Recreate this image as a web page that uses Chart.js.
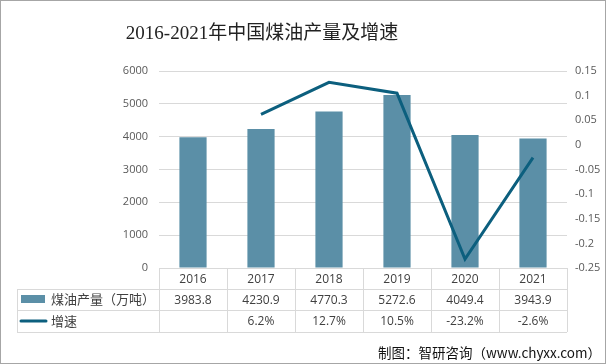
<!DOCTYPE html>
<html>
<head>
<meta charset="utf-8">
<script src="https://cdn.jsdelivr.net/npm/chart.js@4"></script>
<style>
  html, body { margin: 0; padding: 0; background: #fff; }
  canvas { display: block; }
</style>
</head>
<body>
<canvas id="coal" width="606" height="364"></canvas>
<script>
const years = ['2016', '2017', '2018', '2019', '2020', '2021'];
const output = [3983.8, 4230.9, 4770.3, 5272.6, 4049.4, 3943.9];
const growth = [null, 0.062, 0.127, 0.105, -0.232, -0.026];
const seriesNames = ['煤油产量（万吨）', '增速'];
const titleText = '2016-2021年中国煤油产量及增速';
const sourceText = '制图：智研咨询（www.chyxx.com）';

const barColor = '#5b8fa7';
const lineColor = '#0c5f7e';
const gridColor = '#d9d9d9';
const textColor = '#404040';

// table under the plot + title, source and frame
const tablePlugin = {
  id: 'tablePlugin',
  beforeDraw(chart) {
    const c = chart.ctx;
    c.save();
    c.fillStyle = '#fff';
    c.fillRect(0, 0, chart.width, chart.height);
    c.restore();
  },
  afterDraw(chart) {
    const c = chart.ctx;
    const x = chart.scales.x;
    const area = chart.chartArea;
    const colW = (area.right - area.left) / years.length;
    const rows = [area.bottom, area.bottom + 21, area.bottom + 42, area.bottom + 64];
    const legendLeft = 17;
    c.save();

    // grid of the table
    c.strokeStyle = gridColor;
    c.lineWidth = 1;
    c.beginPath();
    for (let r = 1; r < rows.length; r++) {
      c.moveTo(legendLeft, rows[r] + 0.5);
      c.lineTo(area.right, rows[r] + 0.5);
    }
    for (let i = 0; i <= years.length; i++) {
      const px = Math.round(area.left + colW * i) + 0.5;
      c.moveTo(px, rows[0]);
      c.lineTo(px, rows[3]);
    }
    c.moveTo(legendLeft + 0.5, rows[1]);
    c.lineTo(legendLeft + 0.5, rows[3]);
    c.stroke();

    // cells
    c.fillStyle = textColor;
    c.font = '12px "Open Sans", sans-serif';
    c.textAlign = 'center';
    c.textBaseline = 'middle';
    years.forEach((y, i) => {
      const cx = x.getPixelForValue(i);
      c.fillText(y, cx, (rows[0] + rows[1]) / 2 + 1);
      c.fillText(output[i].toFixed(1), cx, (rows[1] + rows[2]) / 2 + 1);
      if (growth[i] !== null) {
        c.fillText((growth[i] * 100).toFixed(1) + '%', cx, (rows[2] + rows[3]) / 2 + 1);
      }
    });

    // legend keys
    c.fillStyle = barColor;
    c.fillRect(21, rows[1] + 6, 24, 8);
    c.strokeStyle = lineColor;
    c.lineWidth = 3;
    c.lineCap = 'round';
    c.beginPath();
    c.moveTo(21, (rows[2] + rows[3]) / 2);
    c.lineTo(46, (rows[2] + rows[3]) / 2);
    c.stroke();
    c.fillStyle = textColor;
    c.textAlign = 'left';
    c.font = '13px "Noto Sans CJK SC", sans-serif';
    c.fillText(seriesNames[0], 51, (rows[1] + rows[2]) / 2);
    c.fillText(seriesNames[1], 51, (rows[2] + rows[3]) / 2);

    // title
    c.fillStyle = '#222';
    c.textAlign = 'center';
    c.font = '19px "Liberation Serif", "Noto Sans CJK SC", serif';
    c.fillText(titleText, 262, 34);

    // source
    c.fillStyle = '#111';
    c.textAlign = 'right';
    c.font = '13.5px "Noto Sans CJK SC", sans-serif';
    c.fillText(sourceText, 601, 353);

    // frame
    c.strokeStyle = '#a6a6a6';
    c.lineWidth = 1;
    c.strokeRect(0.5, 0.5, chart.width - 1, chart.height - 1);
    c.restore();
  }
};

new Chart(document.getElementById('coal'), {
  type: 'bar',
  data: {
    labels: years,
    datasets: [
      {
        type: 'line',
        label: seriesNames[1],
        data: growth,
        yAxisID: 'y1',
        borderColor: lineColor,
        borderWidth: 3,
        pointRadius: 0,
        tension: 0,
        order: 0
      },
      {
        type: 'bar',
        label: seriesNames[0],
        data: output,
        yAxisID: 'y',
        backgroundColor: barColor,
        barPercentage: 0.4,
        categoryPercentage: 1,
        order: 1
      }
    ]
  },
  options: {
    responsive: false,
    animation: false,
    layout: { padding: { top: 71, bottom: 96, left: 0, right: 0 } },
    plugins: {
      legend: { display: false },
      title: { display: false },
      tooltip: { enabled: false }
    },
    scales: {
      x: { display: false, offset: true },
      y: {
        position: 'left',
        min: 0,
        max: 6000,
        ticks: {
          stepSize: 1000,
          color: '#595959',
          padding: 11,
          font: { family: '"Open Sans", sans-serif', size: 11 },
          callback: v => String(v)
        },
        grid: { color: gridColor, drawTicks: false },
        border: { display: false },
        afterFit(s) { s.width = 159; }
      },
      y1: {
        position: 'right',
        min: -0.25,
        max: 0.15,
        ticks: {
          stepSize: 0.05,
          color: '#595959',
          padding: 8,
          font: { family: '"Open Sans", sans-serif', size: 11 },
          callback: v => String(parseFloat(v.toFixed(2)))
        },
        grid: { display: false, drawTicks: false },
        border: { display: false },
        afterFit(s) { s.width = 39; }
      }
    }
  },
  plugins: [tablePlugin]
});
</script>
</body>
</html>
